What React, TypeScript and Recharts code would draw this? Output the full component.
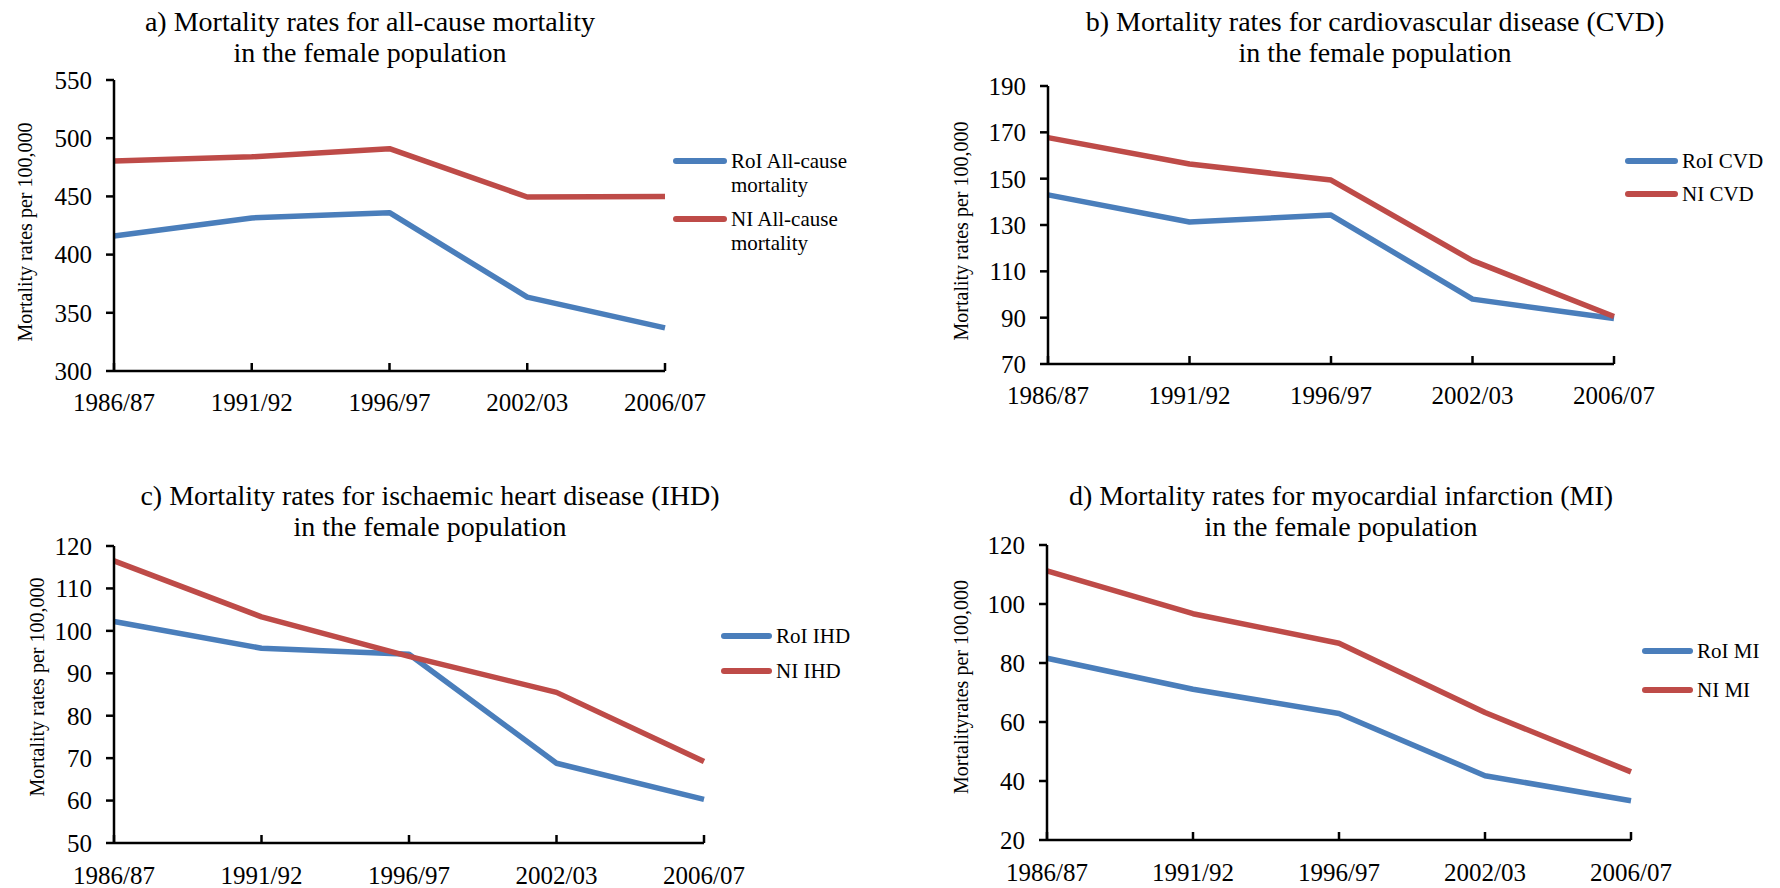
import { Legend, Line, LineChart, XAxis, YAxis } from 'recharts';

const periods = ['1986/87', '1991/92', '1996/97', '2002/03', '2006/07'];

const allCauseRoI = [416, 431.5, 436, 363.5, 337];
const allCauseNI = [480.5, 484, 491, 449.5, 450];
const cvdRoI = [143, 131.3, 134.3, 98, 89.6];
const cvdNI = [167.7, 156.3, 149.4, 114.6, 90.5];
const ihdRoI = [102.2, 95.9, 94.5, 68.8, 60.3];
const ihdNI = [116.5, 103.3, 94, 85.5, 69.2];
const miRoI = [81.6, 71.1, 62.9, 41.8, 33.3];
const miNI = [111.2, 96.7, 86.7, 63.2, 43.1];

const allCauseTicks = [300, 350, 400, 450, 500, 550];
const cvdTicks = [70, 90, 110, 130, 150, 170, 190];
const ihdTicks = [50, 60, 70, 80, 90, 100, 110, 120];
const miTicks = [20, 40, 60, 80, 100, 120];

const FONT = "'Times New Roman', 'Liberation Serif', serif";
const BLUE = '#4A7EBB';
const RED = '#BE4B48';
const YW = 110;
const MT = 14;
const MR = 60;
const XH = 60;

const toRows = (roi: number[], ni: number[]) => periods.map((p, i) => ({ period: p, roi: roi[i], ni: ni[i] }));

interface PanelProps {
  title: [string, string];
  titleX: number;
  titleY: number;
  yLabel: string;
  yLabelX: number;
  yLabelY: number;
  roi: number[];
  ni: number[];
  roiName: string;
  niName: string;
  ticks: number[];
  tickGap: number;
  plot: { l: number; r: number; t: number; b: number };
  legend: { x: number; y: number; gap: number; textX: number; textW: number };
}

function Panel({ title, titleX, titleY, yLabel, yLabelX, yLabelY, roi, ni, roiName, niName, ticks, tickGap, plot, legend }: PanelProps) {
  const left = plot.l - YW;
  const top = plot.t - MT;
  const width = YW + (plot.r - plot.l) + MR;
  const height = MT + (plot.b - plot.t) + XH;
  const swatchW = legend.textX - legend.x;

  const renderLegend = (props: any) => {
    const items = [...(props.payload || [])].sort((a: any, b: any) => (a.dataKey === 'roi' ? -1 : 1) - (b.dataKey === 'roi' ? -1 : 1));
    return (
      <div style={{ fontFamily: FONT, fontSize: 21, color: '#000' }}>
        {items.map((e: any) => (
          <div key={e.value} style={{ display: 'flex', alignItems: 'flex-start', height: legend.gap }}>
            <svg width={swatchW} height={24} style={{ flex: 'none' }}>
              <line x1={3} y1={12} x2={swatchW - 7} y2={12} stroke={e.color} strokeWidth={6} strokeLinecap="round" />
            </svg>
            <span style={{ width: legend.textW, lineHeight: '24px' }}>{e.value}</span>
          </div>
        ))}
      </div>
    );
  };

  return (
    <>
      <div
        style={{
          position: 'absolute',
          left: titleX - 450,
          top: titleY - 15.5,
          width: 900,
          textAlign: 'center',
          fontFamily: FONT,
          fontSize: 28,
          lineHeight: '31px',
          color: '#000',
        }}
      >
        {title[0]}
        <br />
        {title[1]}
      </div>
      <div style={{ position: 'absolute', left, top }}>
        <LineChart width={width} height={height} data={toRows(roi, ni)} margin={{ top: MT, right: MR, bottom: 0, left: 0 }}>
          <XAxis
            dataKey="period"
            height={XH}
            interval={0}
            tickSize={-8}
            tickMargin={tickGap}
            axisLine={{ stroke: '#000', strokeWidth: 2.5 }}
            tickLine={{ stroke: '#000', strokeWidth: 2.5 }}
            tick={{ fill: '#000', fontSize: 25, fontFamily: FONT }}
          />
          <YAxis
            width={YW}
            domain={[ticks[0], ticks[ticks.length - 1]]}
            ticks={ticks}
            interval={0}
            tickSize={8}
            tickMargin={14}
            axisLine={{ stroke: '#000', strokeWidth: 2.5 }}
            tickLine={{ stroke: '#000', strokeWidth: 2.5 }}
            tick={{ fill: '#000', fontSize: 25, fontFamily: FONT }}
            label={{
              content: () => {
                const cx = yLabelX - left;
                const cy = yLabelY - top;
                return (
                  <text
                    x={cx}
                    y={cy}
                    transform={`rotate(-90 ${cx} ${cy})`}
                    textAnchor="middle"
                    dominantBaseline="central"
                    fontFamily={FONT}
                    fontSize={20}
                    fill="#000"
                  >
                    {yLabel}
                  </text>
                );
              },
            }}
          />
          <Legend
            layout="vertical"
            align="center"
            verticalAlign="middle"
            content={renderLegend}
            wrapperStyle={{ left: legend.x - left, top: legend.y - 12 - top, width: swatchW + legend.textW, height: 'auto' }}
          />
          <Line dataKey="roi" name={roiName} stroke={BLUE} strokeWidth={5.5} dot={false} activeDot={false} strokeLinejoin="round" isAnimationActive={false} />
          <Line dataKey="ni" name={niName} stroke={RED} strokeWidth={5.5} dot={false} activeDot={false} strokeLinejoin="round" isAnimationActive={false} />
        </LineChart>
      </div>
    </>
  );
}

export default function App() {
  return (
    <div style={{ position: 'absolute', left: 0, top: 0, width: 1780, height: 888, background: '#fff', overflow: 'hidden' }}>
      <Panel
        title={['a) Mortality rates for all-cause mortality', 'in the female population']}
        titleX={370}
        titleY={21}
        yLabel="Mortality rates per 100,000"
        yLabelX={25}
        yLabelY={232}
        roi={allCauseRoI}
        ni={allCauseNI}
        roiName="RoI All-cause mortality"
        niName="NI All-cause mortality"
        ticks={allCauseTicks}
        tickGap={30}
        plot={{ l: 114, r: 665, t: 80, b: 371 }}
        legend={{ x: 673, y: 161, gap: 58, textX: 731, textW: 135 }}
      />
      <Panel
        title={['b) Mortality rates for cardiovascular disease (CVD)', 'in the female population']}
        titleX={1375}
        titleY={21}
        yLabel="Mortality rates per 100,000"
        yLabelX={961}
        yLabelY={231}
        roi={cvdRoI}
        ni={cvdNI}
        roiName="RoI CVD"
        niName="NI CVD"
        ticks={cvdTicks}
        tickGap={30}
        plot={{ l: 1048, r: 1614, t: 86, b: 364 }}
        legend={{ x: 1625, y: 161, gap: 33, textX: 1682, textW: 95 }}
      />
      <Panel
        title={['c) Mortality rates for ischaemic heart disease (IHD)', 'in the female population']}
        titleX={430}
        titleY={495}
        yLabel="Mortality rates per 100,000"
        yLabelX={37}
        yLabelY={687}
        roi={ihdRoI}
        ni={ihdNI}
        roiName="RoI IHD"
        niName="NI IHD"
        ticks={ihdTicks}
        tickGap={31}
        plot={{ l: 114, r: 704, t: 546, b: 843 }}
        legend={{ x: 721, y: 636, gap: 35, textX: 776, textW: 95 }}
      />
      <Panel
        title={['d) Mortality rates for myocardial infarction (MI)', 'in the female population']}
        titleX={1341}
        titleY={495}
        yLabel="Mortalityrates per 100,000"
        yLabelX={961}
        yLabelY={687}
        roi={miRoI}
        ni={miNI}
        roiName="RoI MI"
        niName="NI MI"
        ticks={miTicks}
        tickGap={31}
        plot={{ l: 1047, r: 1631, t: 545, b: 840 }}
        legend={{ x: 1642, y: 651, gap: 39, textX: 1697, textW: 80 }}
      />
    </div>
  );
}
